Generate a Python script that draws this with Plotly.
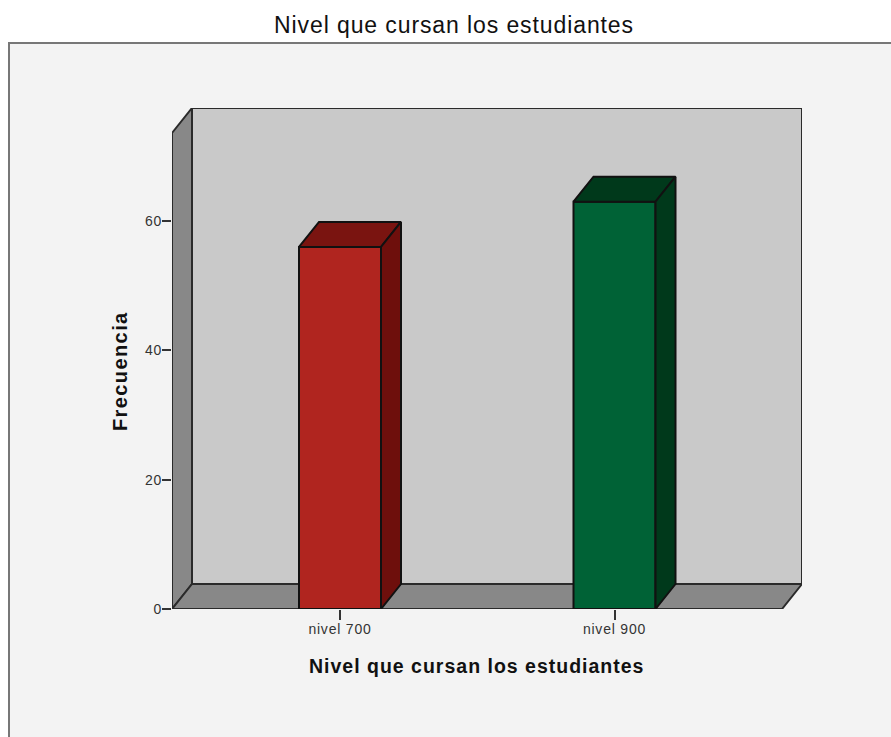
# Bar chart with SPSS style fake 3D box, drawn with plain bars plus filled polygons
import plotly.graph_objs as go

# Data
categories = ['nivel 700', 'nivel 900']
frequencies = [56, 63]
y_ticks = [0, 20, 40, 60]
title_text = 'Nivel que cursan los estudiantes'
x_title = 'Nivel que cursan los estudiantes'
y_title = 'Frecuencia'

# Colours per bar: front, top, side
front_colors = ['#b0251f', '#006236']
top_colors = ['#7a1410', '#00391b']
side_colors = ['#6e0f0c', '#00391b']
LINE = '#111111'

# Page and plot box in pixels
W, H = 891, 737
L, R, T, B = 172, 802, 108, 609

# Axis scales
x_pos = list(range(len(categories)))
x_unit = 274.5
x_min = (L - 340) / x_unit
x_max = (R - 340) / x_unit
y_min, y_max = 0, 77.5
bar_w = 82 / x_unit
dx = 20 / x_unit            # depth of the box, x
dy = 25 * y_max / (B - T)   # depth of the box, y


def path(points):
    return 'M ' + ' L '.join(f'{x} {y}' for x, y in points) + ' Z'


def poly(points, color):
    xs, ys = zip(*(points + points[:1]))
    return go.Scatter(x=xs, y=ys, mode='lines', fill='toself', fillcolor=color,
                      line=dict(color=LINE, width=2), hoverinfo='skip', showlegend=False)


def paper_x(px):
    return (px - L) / (R - L)


def paper_y(px):
    return (B - px) / (B - T)


# Bar front faces
data = [go.Bar(x=x_pos, y=frequencies, width=bar_w,
               marker=dict(color=front_colors, line=dict(color=LINE, width=2)),
               showlegend=False)]

# Bar top and side faces
for x, v, top, side in zip(x_pos, frequencies, top_colors, side_colors):
    x0, x1 = x - bar_w / 2, x + bar_w / 2
    data.append(poly([(x0, v), (x0 + dx, v + dy), (x1 + dx, v + dy), (x1, v)], top))
    data.append(poly([(x1, 0), (x1 + dx, dy), (x1 + dx, v + dy), (x1, v)], side))

# Grey panel behind the chart, then the box walls
wall_line = dict(color='#2a2a2a', width=2)
shapes = [
    dict(type='rect', xref='paper', yref='paper', layer='below',
         x0=paper_x(9), x1=paper_x(W + 5), y0=paper_y(H + 5), y1=paper_y(43),
         fillcolor='#f3f3f3', line=dict(color='#777777', width=2)),
    dict(type='path', layer='below', fillcolor='#c9c9c9', line=wall_line,
         path=path([(x_min + dx, dy), (x_max, dy), (x_max, y_max), (x_min + dx, y_max)])),
    dict(type='path', layer='below', fillcolor='#888888', line=wall_line,
         path=path([(x_min, 0), (x_min + dx, dy), (x_min + dx, y_max), (x_min, y_max - dy)])),
    dict(type='path', layer='below', fillcolor='#888888', line=wall_line,
         path=path([(x_min, 0), (x_max - dx, 0), (x_max, dy), (x_min + dx, dy)])),
]

# Axis titles sit off centre in the original, so they are placed as annotations
annotations = [
    dict(text=f'<b>{x_title}</b>', xref='paper', yref='paper', x=paper_x(477), y=paper_y(666),
         showarrow=False, xanchor='center', yanchor='middle',
         font=dict(size=19.5, color='#111111')),
    dict(text=f'<b>{y_title}</b>', xref='paper', yref='paper', x=paper_x(120), y=paper_y(371),
         showarrow=False, xanchor='center', yanchor='middle', textangle=-90,
         font=dict(size=20, color='#111111')),
]

layout = go.Layout(
    width=W, height=H,
    margin=dict(l=L, r=W - R, t=T, b=H - B, autoexpand=False),
    paper_bgcolor='white',
    plot_bgcolor='rgba(0,0,0,0)',
    font=dict(family='Liberation Sans, Arial, sans-serif', color='#111111'),
    title=dict(text=title_text, font=dict(size=23, color='#111111'),
               x=454 / W, xanchor='center', y=1 - 25 / H, yanchor='middle'),
    xaxis=dict(range=[x_min, x_max], tickmode='array', tickvals=x_pos, ticktext=categories,
               ticks='outside', ticklen=10, tickwidth=1.5, tickcolor='#333333',
               tickfont=dict(size=14, color='#333333'), ticklabelstandoff=-3,
               showgrid=False, zeroline=False, showline=False),
    yaxis=dict(range=[y_min, y_max], tickmode='array', tickvals=y_ticks,
               ticks='outside', ticklen=9, tickwidth=1.5, tickcolor='#333333',
               tickfont=dict(size=14, color='#333333'), ticklabelstandoff=-3,
               showgrid=False, zeroline=False, showline=False),
    shapes=shapes,
    annotations=annotations,
    showlegend=False,
)

# the page's default 8px body margin would push the chart off the window;
# the original text is also spaced wider than the font's default
post = """
document.body.style.margin='0';
function spaced(sel, amount) {
  document.querySelectorAll(sel).forEach(function (t) { t.style.letterSpacing = amount; });
}
spaced('.gtitle', '0.9px');
spaced('.xtick text, .ytick text', '0.8px');
document.querySelectorAll('.annotation-text').forEach(function (t, i) {
  t.style.letterSpacing = i === 0 ? '1px' : '1.4px';
});
"""

fig = go.Figure(data=data, layout=layout)
fig.write_html('out.html', post_script=post, config={'displayModeBar': False})
